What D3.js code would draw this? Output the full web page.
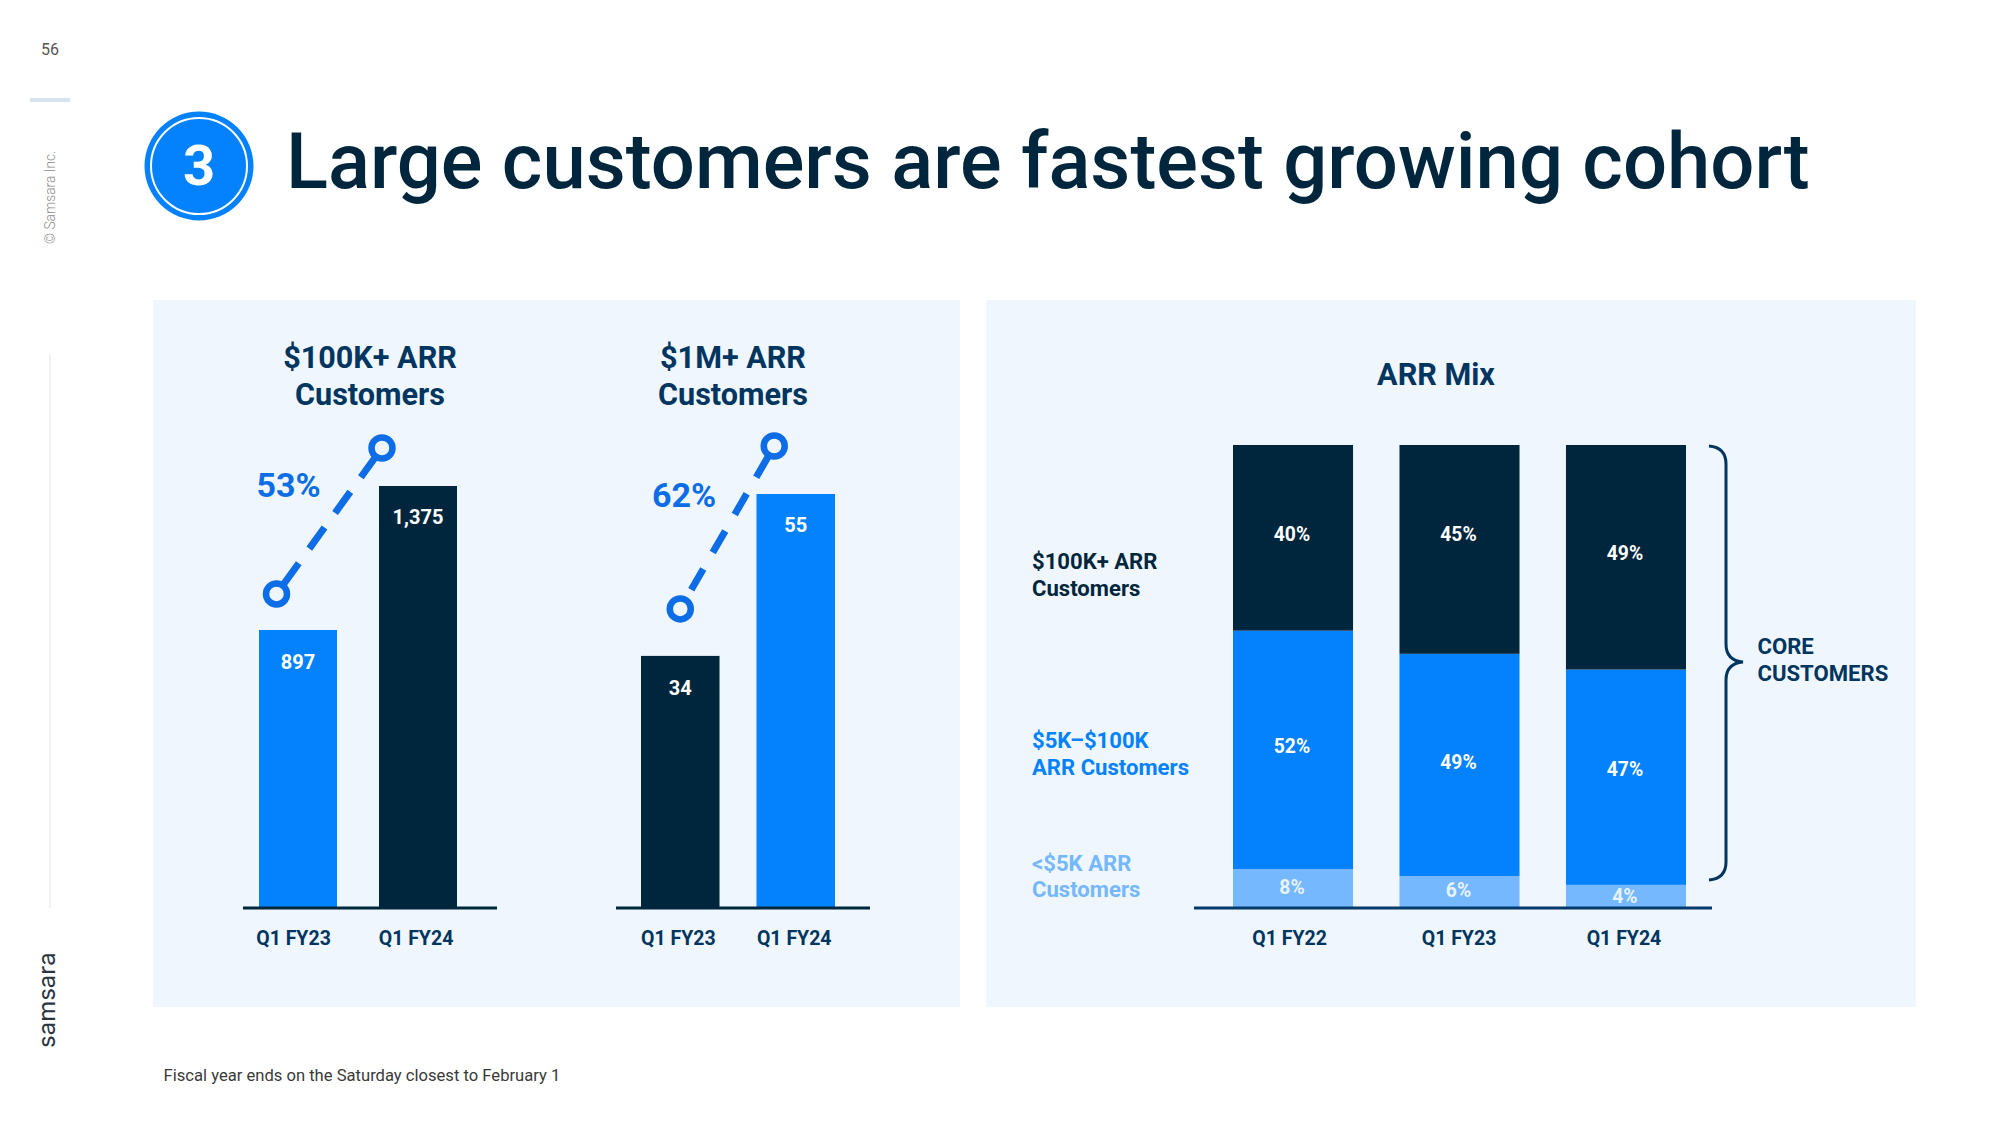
<!DOCTYPE html>
<html><head><meta charset="utf-8">
<script src="https://cdn.jsdelivr.net/npm/d3@7/dist/d3.min.js"></script>
<style>html,body{margin:0;padding:0;background:#fff}svg{display:block}text{font-family:Roboto,sans-serif}</style>
</head><body><div id="c"></div>
<script>
// ---- data ----
const titleText = "Large customers are fastest growing cohort";
const footnote = "Fiscal year ends on the Saturday closest to February 1";
const leftCats = ["Q1 FY23","Q1 FY24"];
const customers100k = [897,1375];
const customers100kLabels = ["897","1,375"];
const customers1m = [34,55];
const customers1mLabels = ["34","55"];
const growth100k = "53%";
const growth1m = "62%";
const mixCats = ["Q1 FY22","Q1 FY23","Q1 FY24"];
const mixKeys = ["small","mid","large"];
const mixSmall = [8.4,6.9,5.0];
const mixMid = [51.5,48.0,46.5];
const mixLarge = [40.1,45.1,48.5];
// printed labels
const mixSmallLabels = ["8%","6%","4%"];
const mixMidLabels = ["52%","49%","47%"];
const mixLargeLabels = ["40%","45%","49%"];

const NAVY="#00263e", BLUE="#0482fe", LIGHT="#76b8fd", INK="#00355f", PANEL="#eff6fd", ACCENT="#0c6de6";
const svg=d3.select("#c").append("svg").attr("width",2000).attr("height",1125).attr("viewBox","0 0 2000 1125");

function T(g,x,y,s,size,fill,weight,anchor){
  return g.append("text").attr("x",x).attr("y",y).text(s).attr("font-size",size).attr("fill",fill)
    .attr("font-weight",weight||400).attr("text-anchor",anchor||"start");
}
// chrome
T(svg,50,55,"56",16,"#555",400,"middle");
svg.append("rect").attr("x",30).attr("y",98).attr("width",40).attr("height",4).attr("fill","#d5e2f2");
T(svg,0,0,"© Samsara Inc.",13.8,"#8c8c8c",300).attr("transform","translate(55,244) rotate(-90)");
svg.append("line").attr("x1",50).attr("x2",50).attr("y1",354).attr("y2",908).attr("stroke","#ececec").attr("stroke-width",1.5);
T(svg,0,0,"samsara",24,"#2b3440",400).attr("transform","translate(55,1048) rotate(-90)").style("font-family","Inter");
svg.append("rect").attr("x",153).attr("y",300).attr("width",807).attr("height",707).attr("fill",PANEL);
svg.append("rect").attr("x",986).attr("y",300).attr("width",930).attr("height",707).attr("fill",PANEL);
svg.append("circle").attr("cx",199).attr("cy",166).attr("r",54.5).attr("fill",BLUE);
svg.append("circle").attr("cx",199).attr("cy",166).attr("r",48).attr("fill","none").attr("stroke","#fff").attr("stroke-width",2);
T(svg,199,185,"3",56,"#fff",700,"middle");
T(svg,286,188,titleText,77.8,NAVY,500);
T(svg,163.5,1081,footnote,16.6,"#3a3a3a",400);

const BASE=908;
function axis(scale,nudges,x1,x2,lineColor){
  const a=svg.append("g").attr("transform",`translate(0,${BASE})`)
    .call(d3.axisBottom(scale).tickSize(0).tickSizeOuter(0));
  a.select(".domain").remove();
  a.selectAll("text").attr("font-size",19.5).attr("font-weight",700).attr("fill",INK)
    .style("font-family","Roboto").attr("y",37).attr("dy",0).attr("dx",(d,i)=>nudges[i]);
  svg.append("line").attr("x1",x1).attr("x2",x2).attr("y1",BASE).attr("y2",BASE).attr("stroke",lineColor).attr("stroke-width",3);
}
function pair(o){
  const x=d3.scaleBand().domain(leftCats).range(o.xr).paddingInner(o.pad).paddingOuter(0);
  const y=d3.scaleLinear().domain(o.yd).range([BASE,o.top]);
  svg.selectAll(null).data(o.vals).join("rect")
    .attr("x",(d,i)=>x(leftCats[i])).attr("width",x.bandwidth())
    .attr("y",d=>y(d)).attr("height",d=>BASE-y(d)).attr("fill",(d,i)=>o.cols[i]);
  svg.selectAll(null).data(o.vals).join("text")
    .attr("x",(d,i)=>x(leftCats[i])+x.bandwidth()/2).attr("y",(d,i)=>y(d)+o.lab[i])
    .text((d,i)=>o.labels[i]).attr("font-size",20).attr("font-weight",700).attr("fill","#fff").attr("text-anchor","middle");
  axis(x,o.nudge,o.base[0],o.base[1],NAVY);
  // connector
  const pts=o.vals.map((d,i)=>[x(leftCats[i])+x.bandwidth()/2+o.dx[i],y(d)-o.lift[i]]);
  svg.append("path").attr("d",d3.line()(pts)).attr("fill","none").attr("stroke",ACCENT).attr("stroke-width",7).attr("stroke-dasharray",o.dash);
  svg.selectAll(null).data(pts).join("circle").attr("cx",d=>d[0]).attr("cy",d=>d[1]).attr("r",10.5)
    .attr("fill",PANEL).attr("stroke",ACCENT).attr("stroke-width",6.5);
  T(svg,o.gp[0],o.gp[1],o.growth,34,ACCENT,700);
  T(svg,o.hx,368,o.head[0],30.6,INK,700,"middle");
  T(svg,o.hx,405,o.head[1],30.6,INK,700,"middle");
}
pair({xr:[259,457],pad:0.35,yd:[-26,1375],top:486,vals:customers100k,labels:customers100kLabels,cols:[BLUE,NAVY],lab:[39.5,37.5],
  nudge:[-4.5,-2],base:[243,497],dx:[-21.5,-36],lift:[36,38],dash:"38 18 26 18 26 18 40",growth:growth100k,gp:[256.5,497],hx:370,head:["$100K+ ARR","Customers"]});
pair({xr:[641,835],pad:0.32,yd:[1.3,55],top:494,vals:customers1m,labels:customers1mLabels,cols:[NAVY,BLUE],lab:[39.5,38],
  nudge:[-2,-1.5],base:[616,870],dx:[0,-21.5],lift:[47,48],dash:"0 22 24 19 25 19 24 19 40",growth:growth1m,gp:[652,507],hx:733,head:["$1M+ ARR","Customers"]});

// stacked mix
const mixRows=mixCats.map((c,i)=>({cat:c,small:mixSmall[i],mid:mixMid[i],large:mixLarge[i]}));
const mixLabels={small:mixSmallLabels,mid:mixMidLabels,large:mixLargeLabels};
const mixNudge={small:[-1.5,-2,-0.5],mid:[-4,-2.5,-8.5],large:[-3.5,-15,-4.5]};
const mixFill={small:LIGHT,mid:BLUE,large:NAVY};
const mx=d3.scaleBand().domain(mixCats).range([1233,1686]).paddingInner(0.279).paddingOuter(0);
const my=d3.scaleLinear().domain([0,100]).range([BASE,445]);
const series=d3.stack().keys(mixKeys)(mixRows);
series.forEach(s=>{
  svg.selectAll(null).data(s).join("rect").attr("x",d=>mx(d.data.cat)).attr("width",mx.bandwidth())
    .attr("y",d=>my(d[1])).attr("height",d=>my(d[0])-my(d[1])).attr("fill",mixFill[s.key]);
  svg.selectAll(null).data(s).join("text").attr("x",d=>mx(d.data.cat)+mx.bandwidth()/2-1)
    .attr("y",(d,i)=>(my(d[0])+my(d[1]))/2+7+mixNudge[s.key][i]).text((d,i)=>mixLabels[s.key][i])
    .attr("font-size",19.3).attr("font-weight",700).attr("fill","#fff").attr("fill-opacity",s.key==="small"?0.85:1).attr("text-anchor","middle");
});
axis(mx,[-3.5,-0.5,-2],1194,1712,"#003a6b");
T(svg,1436,385,"ARR Mix",30.6,INK,700,"middle");
[["$100K+ ARR",569,NAVY],["Customers",596,NAVY],["$5K–$100K",748,BLUE],["ARR Customers",775,BLUE],["<$5K ARR",871,LIGHT],["Customers",897,LIGHT]]
  .forEach(r=>T(svg,1032,r[1],r[0],22.1,r[2],700));
T(svg,1757.5,654,"CORE",22.1,INK,700);
T(svg,1757.5,681,"CUSTOMERS",22.1,INK,700);
svg.append("path").attr("d","M1709,446 C1720,447 1726,453 1726,464 L1726,644 C1726,655 1732,661 1743,662 C1732,663 1726,669 1726,680 L1726,862 C1726,873 1720,879 1709,880")
  .attr("fill","none").attr("stroke",INK).attr("stroke-width",3);
</script></body></html>
